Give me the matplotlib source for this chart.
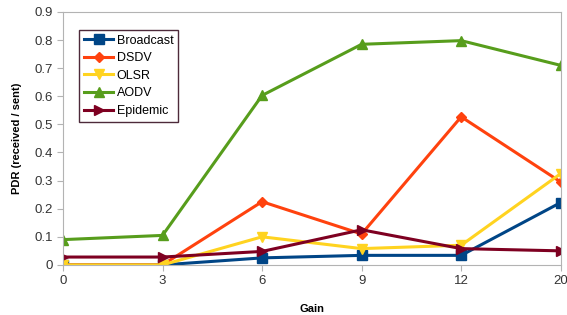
import matplotlib
matplotlib.use("Agg")
import matplotlib.pyplot as plt

plt.rcParams['font.family'] = ['Liberation Sans', 'DejaVu Sans']

gains = ["0", "3", "6", "9", "12", "20"]
broadcast = [0.0, 0.0, 0.025, 0.034, 0.034, 0.222]
dsdv = [0.0, 0.0, 0.225, 0.11, 0.527, 0.295]
olsr = [0.0, 0.0, 0.10, 0.058, 0.07, 0.325]
aodv = [0.09, 0.105, 0.603, 0.785, 0.798, 0.71]
epidemic = [0.028, 0.028, 0.048, 0.125, 0.058, 0.05]

series = [
    ("Broadcast", broadcast, "#004586", "s"),
    ("DSDV", dsdv, "#ff420e", "D"),
    ("OLSR", olsr, "#ffd320", "v"),
    ("AODV", aodv, "#579d1c", "^"),
    ("Epidemic", epidemic, "#7e0021", ">"),
]

fig = plt.figure(figsize=(5.67, 3.15), dpi=100)
ax = fig.add_axes([0.111, 0.159, 0.878, 0.803])

x = list(range(len(gains)))
for name, vals, col, mk in series:
    ms = 5 if mk == "D" else 7
    ax.plot(x, vals, color=col, marker=mk, markersize=ms, linewidth=2.2, label=name)

ax.set_xlim(0, len(gains) - 1)
ax.set_ylim(0, 0.9)
ax.set_xticks(x)
ax.set_xticklabels(gains)
ax.set_yticks([i / 10 for i in range(10)])
ax.set_yticklabels(["0"] + [f"{i / 10:.1f}" for i in range(1, 10)])
ax.tick_params(axis='both', labelsize=9.5, length=4, colors="#333333")
ax.tick_params(axis='both', color="#b3b3b3")
for s in ax.spines.values():
    s.set_color("#b3b3b3")
    s.set_linewidth(0.8)

ax.set_xlabel("Gain", fontsize=8, fontweight="bold", labelpad=12)
ax.set_ylabel("PDR (received / sent)", fontsize=8, fontweight="bold", labelpad=9)

leg = ax.legend(loc="upper left", bbox_to_anchor=(0.02, 0.955), fontsize=9,
                fancybox=False, framealpha=1, handlelength=2.3, borderpad=0.4,
                labelspacing=0.45, handletextpad=0.3)
leg.get_frame().set_edgecolor("#4d2a3a")
leg.get_frame().set_linewidth(1.0)

fig.savefig("out.png", dpi=100)
